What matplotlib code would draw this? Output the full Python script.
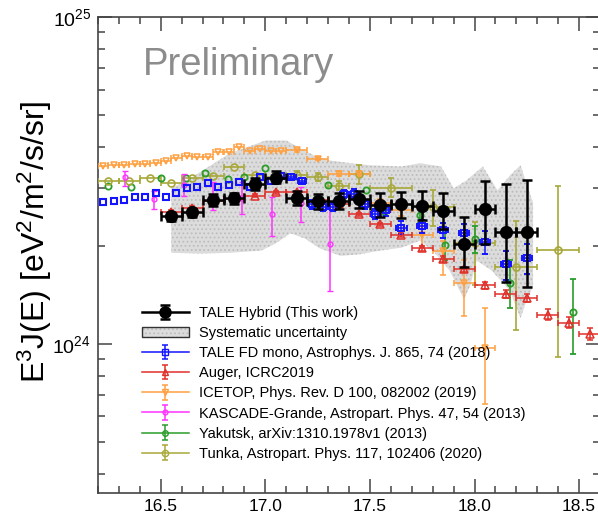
import numpy as np
import matplotlib
matplotlib.use('Agg')
import matplotlib.pyplot as plt
from matplotlib.lines import Line2D
from matplotlib.patches import Patch
from matplotlib.legend_handler import HandlerTuple
from matplotlib.ticker import LogLocator, MultipleLocator, NullFormatter

plt.rcParams['font.family'] = ['Liberation Sans', 'DejaVu Sans']
plt.rcParams['mathtext.fontset'] = 'custom'
plt.rcParams['mathtext.rm'] = 'Liberation Sans'
plt.rcParams['mathtext.it'] = 'Liberation Sans:italic'
plt.rcParams['hatch.linewidth'] = 0.8

UNIT = 1e24  # all flux values below are in units of 1e24 eV^2/m^2/s/sr

# TALE Hybrid (this work)
hyb_x = np.array([16.55, 16.65, 16.75, 16.85, 16.95, 17.05, 17.15, 17.25, 17.35,
                  17.45, 17.55, 17.65, 17.75, 17.85, 17.95, 18.05, 18.15, 18.25])
hyb_y = np.array([2.458, 2.528, 2.760, 2.791, 3.090, 3.224, 2.791, 2.727, 2.733,
                  2.779, 2.669, 2.682, 2.650, 2.546, 2.022, 2.589, 2.195, 2.195])
hyb_lo = np.array([2.384, 2.453, 2.650, 2.688, 2.967, 3.096, 2.669, 2.589, 2.589,
                   2.608, 2.453, 2.430, 2.396, 2.248, 1.714, 2.022, 1.542, 1.489])
hyb_hi = np.array([2.522, 2.594, 2.865, 2.885, 3.207, 3.370, 2.927, 2.879, 2.900,
                   2.946, 2.891, 2.911, 2.927, 2.891, 2.441, 3.147, 3.074, 3.177])

# systematic band outline
band_top_x = [16.55, 16.64, 16.74, 16.83, 16.91, 17.0, 17.1, 17.17, 17.24, 17.31, 17.41, 17.5,
              17.65, 17.74, 17.84, 17.9, 17.96, 18.04, 18.11, 18.17, 18.22, 18.26, 18.28]
band_top_y = [2.99, 3.21, 3.52, 3.83, 3.99, 4.19, 4.19, 3.96, 3.75, 3.64, 3.57, 3.52,
              3.49, 3.57, 3.49, 2.99, 3.16, 3.49, 2.95, 3.28, 3.52, 2.95, 2.70]
band_bot_x = [16.55, 16.69, 16.83, 16.98, 17.05, 17.12, 17.19, 17.26, 17.36, 17.45, 17.55, 17.65,
              17.74, 17.81, 17.88, 17.95, 17.98, 18.01, 18.08, 18.14, 18.17, 18.22, 18.25, 18.28]
band_bot_y = [1.90, 1.89, 1.90, 1.93, 2.03, 2.18, 2.10, 1.96, 1.86, 1.88, 1.93, 1.97,
              2.07, 1.90, 1.68, 1.37, 1.51, 1.80, 1.68, 1.53, 1.45, 1.20, 1.36, 1.50]

# TALE FD mono (first 18 points have errors smaller than the marker)
mono_x = np.array([16.225, 16.275, 16.325, 16.375, 16.425, 16.475, 16.525, 16.575, 16.625,
                   16.675, 16.725, 16.775, 16.825, 16.875, 16.925, 16.975, 17.025, 17.075,
                   17.125, 17.175, 17.225, 17.275, 17.325, 17.375, 17.425, 17.475, 17.525,
                   17.575, 17.65, 17.75, 17.85, 17.95, 18.05, 18.15, 18.25])
mono_y = np.array([2.71, 2.73, 2.76, 2.81, 2.81, 2.89, 2.81, 2.89, 3.00, 3.03, 3.11, 3.02,
                   3.07, 3.13, 3.03, 3.24, 3.14, 3.26, 3.25, 3.16, 2.67, 2.63, 2.63, 2.87,
                   2.88, 2.67, 2.50, 2.56, 2.27, 2.29, 2.23, 2.19, 2.05, 1.75, 1.83])
mono_err = np.array([0.05, 0.06, 0.08, 0.08, 0.08, 0.08, 0.09, 0.09, 0.09,
                     0.1, 0.1, 0.1, 0.12, 0.13, 0.17, 0.18, 0.19])
mono_xerr = np.array([0.02] * 10 + [0.025] * 7)

# Auger ICRC2019
aug_x = np.array([16.55, 16.65, 16.75, 16.85, 16.95, 17.05, 17.15, 17.25, 17.35, 17.45, 17.55,
                  17.65, 17.75, 17.85, 17.95, 18.05, 18.15, 18.25, 18.35, 18.45, 18.55])
aug_y = np.array([2.53, 2.61, 2.73, 2.77, 2.84, 2.91, 2.91, 2.75, 2.68, 2.49, 2.32,
                  2.15, 1.96, 1.82, 1.69, 1.51, 1.42, 1.38, 1.23, 1.16, 1.07])
aug_err = np.array([0.03] * 11 + [0.03, 0.03, 0.035, 0.035, 0.04, 0.04, 0.04, 0.045, 0.045, 0.045])

# ICETOP (first 18 points: only the energy bin is visible)
ice_x = np.array([16.225, 16.275, 16.325, 16.375, 16.425, 16.475, 16.525, 16.575, 16.625,
                  16.675, 16.725, 16.775, 16.825, 16.875, 16.925, 16.975, 17.025, 17.075,
                  17.15, 17.25, 17.35, 17.45, 17.55, 17.65, 17.75, 17.85, 17.95, 18.05])
ice_y = np.array([3.50, 3.52, 3.52, 3.54, 3.56, 3.57, 3.63, 3.71, 3.77, 3.74, 3.72, 3.86,
                  3.86, 4.01, 3.88, 3.94, 3.90, 3.90, 3.91, 3.69, 3.32, 3.32, 2.69, 2.57,
                  2.15, 1.92, 1.54, 0.974])
ice_elo = np.array([0.05, 0.05, 0.05, 0.05, 0.08, 0.1, 0.15, 0.29, 0.32, 0.32])
ice_ehi = np.array([0.05, 0.05, 0.05, 0.05, 0.08, 0.1, 0.15, 0.15, 0.26, 0.31])

# KASCADE-Grande
kas_x = np.array([16.33, 16.47, 16.61, 16.75, 16.89, 17.03, 17.17, 17.31])
kas_y = np.array([3.23, 2.77, 3.07, 2.82, 2.80, 2.49, 2.69, 2.02])
kas_lo = np.array([3.05, 2.59, 2.84, 2.56, 2.50, 2.14, 2.36, 1.45])
kas_hi = np.array([3.39, 2.93, 3.32, 3.13, 3.13, 2.81, 3.02, 2.68])

# Yakutsk (first 10 points without visible errors)
yak_x = np.array([16.25, 16.36, 16.50, 16.62, 16.71, 16.82, 16.90, 17.00,
                  17.30, 17.48, 17.57, 17.74, 17.86, 18.00, 18.17, 18.47])
yak_y = np.array([3.05, 3.03, 3.21, 3.21, 3.33, 3.20, 3.25, 3.46,
                  3.07, 2.96, 2.57, 2.48, 2.01, 2.10, 1.54, 1.25])
yak_elo = np.array([0.09, 0.14, 0.21, 0.2, 0.25, 0.32])
yak_ehi = np.array([0.09, 0.14, 0.21, 0.2, 0.27, 0.33])

# Tunka (first 9 points: only the energy bin is visible)
tun_x = np.array([16.25, 16.35, 16.45, 16.55, 16.65, 16.75, 16.85, 16.95, 17.05,
                  17.15, 17.25, 17.35, 17.45, 17.6, 17.8, 18.0, 18.2, 18.4])
tun_y = np.array([3.16, 3.16, 3.21, 3.11, 3.22, 3.26, 3.47, 3.29, 3.25,
                  3.28, 3.24, 3.05, 3.32, 3.00, 2.62, 2.03, 1.72, 1.94])
tun_lo = np.array([3.18, 3.14, 2.95, 3.09, 2.81, 2.30, 1.51, 1.10, 0.91])
tun_hi = np.array([3.38, 3.34, 3.15, 3.52, 3.21, 2.95, 2.36, 2.37, 3.04])
tun_xerr = np.array([0.05] * 4 + [0.1] * 5)

c_hyb = 'black'
c_mono = '#1414ff'
c_aug = '#e0302a'
c_ice = '#ffa040'
c_kas = '#ff33ff'
c_yak = '#2a9d2a'
c_tun = '#a8a83a'
c_band = '#dcdcdc'
c_dots = '#bdbdbd'

fig = plt.figure(figsize=(5.98, 5.22), dpi=100)
ax = fig.add_axes([98 / 598, 29 / 522, 502 / 598, 476 / 522])
ax.set_yscale('log')

# systematic uncertainty band
bx = band_top_x + band_bot_x[::-1]
by = np.array(band_top_y + band_bot_y[::-1]) * UNIT
ax.fill(bx, by, facecolor=c_band, edgecolor=c_dots, hatch='....', lw=0, zorder=1)

# Tunka
ax.errorbar(tun_x[:9], tun_y[:9] * UNIT, xerr=0.05, fmt='o', color=c_tun, ms=5,
            mfc='none', mew=1.2, elinewidth=1.2, capsize=2.5, zorder=3)
ax.errorbar(tun_x[9:], tun_y[9:] * UNIT, yerr=[(tun_y[9:] - tun_lo) * UNIT, (tun_hi - tun_y[9:]) * UNIT],
            xerr=tun_xerr, fmt='o', color=c_tun, ms=5, mfc='none', mew=1.2,
            elinewidth=1.2, capsize=2.5, zorder=3)
# Yakutsk
ax.plot(yak_x[:10], yak_y[:10] * UNIT, 'o', color=c_yak, ms=4.5, mfc='none', mew=1.3, zorder=3)
ax.errorbar(yak_x[10:], yak_y[10:] * UNIT, yerr=[yak_elo * UNIT, yak_ehi * UNIT],
            fmt='o', color=c_yak, ms=4.5, mfc='none', mew=1.3,
            elinewidth=1.2, capsize=2.5, zorder=3)
# KASCADE-Grande
ax.errorbar(kas_x, kas_y * UNIT, yerr=[(kas_y - kas_lo) * UNIT, (kas_hi - kas_y) * UNIT],
            fmt='o', color=c_kas, ms=3.5, mfc='none', mew=1,
            elinewidth=1.1, capsize=2.5, zorder=3)
# ICETOP
ax.errorbar(ice_x[:18], ice_y[:18] * UNIT, xerr=0.025, fmt='v', color=c_ice, ms=5,
            mfc='none', mew=1.1, elinewidth=1.1, capsize=2.2, zorder=3)
ax.errorbar(ice_x[18:], ice_y[18:] * UNIT, yerr=[ice_elo * UNIT, ice_ehi * UNIT], xerr=0.05,
            fmt='v', color=c_ice, ms=5, mfc='none', mew=1.1,
            elinewidth=1.1, capsize=2.2, zorder=3)
# Auger
ax.errorbar(aug_x, aug_y * UNIT, yerr=aug_err * UNIT, xerr=0.05,
            fmt='^', color=c_aug, ms=5.5, mfc='none', mew=1.1,
            elinewidth=1.1, capsize=2.0, zorder=4)
# TALE FD mono
ax.plot(mono_x[:18], mono_y[:18] * UNIT, 's', color=c_mono, ms=4.6, mfc='none', mew=1.5, zorder=4)
ax.errorbar(mono_x[18:], mono_y[18:] * UNIT, yerr=mono_err * UNIT, xerr=mono_xerr,
            fmt='s', color=c_mono, ms=4.6, mfc='none', mew=1.4,
            elinewidth=1.1, capsize=2.2, zorder=4)
# TALE Hybrid
ax.errorbar(hyb_x, hyb_y * UNIT, yerr=[(hyb_y - hyb_lo) * UNIT, (hyb_hi - hyb_y) * UNIT],
            xerr=0.05, fmt='o', color=c_hyb, ms=8.5, elinewidth=1.8, capsize=3.5,
            capthick=1.8, zorder=6)

ax.text(0.09, 0.9, 'Preliminary', transform=ax.transAxes, fontsize=27.5,
        color='#8c8c8c', va='center', ha='left')

ax.set_xlim(16.2, 18.6)
ax.set_ylim(3.5e23, 1e25)
ax.xaxis.set_major_locator(MultipleLocator(0.5))
ax.xaxis.set_minor_locator(MultipleLocator(0.1))
ax.yaxis.set_minor_locator(LogLocator(base=10, subs=np.arange(2, 10)))
ax.yaxis.set_minor_formatter(NullFormatter())
ax.tick_params(which='both', direction='in', top=True, right=True, width=1.1, color='#444444')
ax.tick_params(which='major', length=10)
ax.tick_params(which='minor', length=5)
ax.tick_params(axis='x', labelsize=12.5, pad=4)
ax.tick_params(axis='y', labelsize=14, pad=5)
for s in ax.spines.values():
    s.set_color('#444444')
    s.set_linewidth(1.2)

fig.text(35 / 598, 1 - 242 / 522, r'E$^{3}$J(E) [eV$^{2}$/m$^{2}$/s/sr]',
         rotation=90, fontsize=23, ha='center', va='center')

# legend: horizontal line + marker with vertical error bar
def leg_entry(color, fmt, ms, lw, mfc, cap):
    line = Line2D([], [], color=color, lw=lw)
    eb = ax.errorbar([np.nan], [np.nan], yerr=[1.0], fmt=fmt, color=color, ms=ms,
                     mfc=mfc, elinewidth=lw, capsize=cap, capthick=lw)
    return (line, eb)

band_leg = (Patch(facecolor=c_band, edgecolor=c_dots, hatch='....', lw=0),
            Patch(facecolor='none', edgecolor='#333333', lw=1))
handles = [leg_entry(c_hyb, 'o', 8, 1.8, c_hyb, 3.5), band_leg,
           leg_entry(c_mono, 's', 4.5, 1.1, 'none', 2.5),
           leg_entry(c_aug, '^', 4.5, 1.1, 'none', 2.5),
           leg_entry(c_ice, 'v', 4.5, 1.1, 'none', 2.5),
           leg_entry(c_kas, 'o', 3.5, 1.1, 'none', 2.5),
           leg_entry(c_yak, 'o', 4, 1.1, 'none', 2.5),
           leg_entry(c_tun, 'o', 4.5, 1.1, 'none', 2.5)]
labels = ['TALE Hybrid (This work)', 'Systematic uncertainty',
          'TALE FD mono, Astrophys. J. 865, 74 (2018)', 'Auger, ICRC2019',
          'ICETOP, Phys. Rev. D 100, 082002 (2019)',
          'KASCADE-Grande, Astropart. Phys. 47, 54 (2013)',
          'Yakutsk, arXiv:1310.1978v1 (2013)',
          'Tunka, Astropart. Phys. 117, 102406 (2020)']
ax.legend(handles, labels, handler_map={tuple: HandlerTuple(ndivide=1, pad=0)},
          loc='upper left', bbox_to_anchor=(0.0876, 0.393), frameon=False,
          fontsize=10.5, handlelength=3.2, handletextpad=0.7, labelspacing=0.42,
          borderpad=0, borderaxespad=0)

fig.savefig('out.png', dpi=100)
